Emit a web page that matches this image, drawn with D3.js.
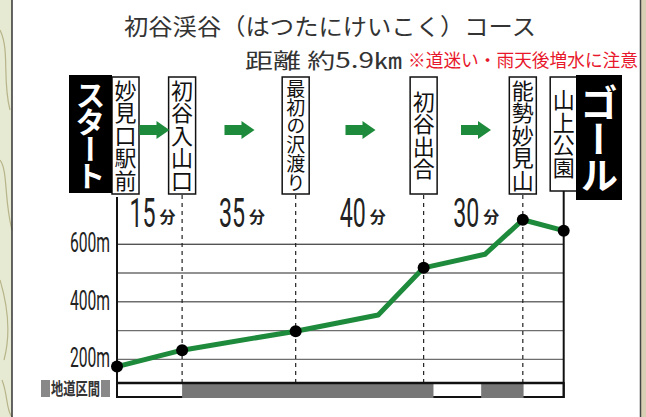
<!DOCTYPE html>
<html>
<head>
<meta charset="utf-8">
<script src="https://cdn.jsdelivr.net/npm/d3@7"></script>
<style>
  body { margin: 0; background: #fff; }
  text { font-family: "Noto Sans CJK JP", "Noto Sans", sans-serif; }
  .vert { writing-mode: vertical-rl; }
</style>
</head>
<body>
<div id="chart"></div>
<script>
// Chart data
const stations = ["妙見口駅前", "初谷入山口", "最初の沢渡り", "初谷出合", "能勢妙見山", "山上公園"];
const stationKm = [0, 0.86, 2.36, 4.05, 5.36, 5.9];
const legTimes = ["15", "35", "40", "30"];
const profileKm = [0, 0.86, 2.36, 3.45, 4.05, 4.86, 5.36, 5.9];
const profileElev = [175, 232, 298, 354, 518, 565, 685, 647];
const gridElev = [200, 300, 400, 500, 600];
const tickElev = [200, 400, 600];
const roadStart = [0.86, 4.81];
const roadEnd = [4.18, 5.37];

const width = 646, height = 417;
const svg = d3.select("#chart").append("svg")
    .attr("width", width)
    .attr("height", height);

// Map strips at the edges
svg.append("rect").attr("x", 0).attr("y", 0).attr("width", 12).attr("height", height).attr("fill", "#e6ead2");
svg.append("rect").attr("x", 640).attr("y", 0).attr("width", 6).attr("height", height).attr("fill", "#d9cfb4");
const mapLines = ["M0,30 C10,50 2,80 10,110", "M0,160 C8,170 4,200 12,230", "M0,280 C6,300 12,330 4,360", "M2,380 C8,395 6,410 12,417"];
svg.selectAll("path.map").data(mapLines).enter().append("path")
    .attr("d", d => d).attr("fill", "none").attr("stroke", "#b8b48a").attr("stroke-width", 1.2);
svg.append("line").attr("x1", 12).attr("x2", 12).attr("y1", 0).attr("y2", height).attr("stroke", "#333").attr("stroke-width", 1.5);
svg.append("line").attr("x1", 640.5).attr("x2", 640.5).attr("y1", 0).attr("y2", height).attr("stroke", "#444").attr("stroke-width", 1.5);

// Title
svg.append("text")
    .attr("x", 124).attr("y", 35)
    .attr("textLength", 412).attr("lengthAdjust", "spacingAndGlyphs")
    .style("font-size", "23px").attr("fill", "#333")
    .text("初谷渓谷（はつたにけいこく）コース");
svg.append("text")
    .attr("x", 245).attr("y", 68)
    .attr("textLength", 157).attr("lengthAdjust", "spacingAndGlyphs")
    .style("font-size", "21px").attr("fill", "#333")
    .text("距離 約5.9㎞");
svg.append("text")
    .attr("x", 408).attr("y", 67)
    .attr("textLength", 230).attr("lengthAdjust", "spacingAndGlyphs")
    .style("font-size", "18px").attr("fill", "#e8182c")
    .text("※道迷い・雨天後増水に注意");

// Scales
const x = d3.scaleLinear().domain([0, 5.9]).range([117, 563.7]);
const y = d3.scaleLinear().domain([118, 764]).range([383, 197]);

// Gridlines
svg.selectAll("line.grid").data(gridElev).enter().append("line")
    .attr("x1", x(0)).attr("x2", x(5.9))
    .attr("y1", d => y(d)).attr("y2", d => y(d))
    .attr("stroke", d => d === 600 ? "#111" : "#6e6e6e")
    .attr("stroke-width", d => d === 600 ? 1 : 1.4);

// Y tick labels (condensed by horizontal scaling)
svg.selectAll("text.ytick").data(tickElev).enter().append("text")
    .attr("transform", d => `translate(110,${y(d) + 8}) scale(0.58,1)`)
    .attr("text-anchor", "end")
    .style("font-family", "Roboto").style("font-size", "27px").attr("fill", "#222")
    .text(d => d + "m");

// Dashed station lines
svg.selectAll("line.station").data(stationKm.slice(1, -1)).enter().append("line")
    .attr("x1", d => x(d)).attr("x2", d => x(d))
    .attr("y1", 195).attr("y2", 383)
    .attr("stroke", "#222").attr("stroke-width", 1.2)
    .attr("stroke-dasharray", "4,4");

// Road band
svg.append("rect").attr("x", x(0)).attr("y", 383).attr("width", x(5.9) - x(0)).attr("height", 14)
    .attr("fill", "#fff").attr("stroke", "#111").attr("stroke-width", 2);
svg.selectAll("rect.road").data(roadStart).enter().append("rect")
    .attr("x", d => x(d)).attr("y", 384)
    .attr("width", (d, i) => x(roadEnd[i]) - x(d)).attr("height", 14)
    .attr("fill", "#777");
svg.append("line").attr("x1", x(0)).attr("x2", x(5.9)).attr("y1", 383).attr("y2", 383)
    .attr("stroke", "#111").attr("stroke-width", 2.5);

// Axes (solid verticals)
svg.append("line").attr("x1", x(0)).attr("x2", x(0)).attr("y1", 197).attr("y2", 398)
    .attr("stroke", "#111").attr("stroke-width", 2);
svg.append("line").attr("x1", x(5.9)).attr("x2", x(5.9)).attr("y1", 191).attr("y2", 398)
    .attr("stroke", "#111").attr("stroke-width", 2);

// Legend
svg.append("rect").attr("x", 41).attr("y", 380).attr("width", 9).attr("height", 17).attr("fill", "#888");
svg.append("rect").attr("x", 101).attr("y", 380).attr("width", 9).attr("height", 17).attr("fill", "#888");
svg.append("text").attr("x", 51).attr("y", 395)
    .attr("textLength", 49).attr("lengthAdjust", "spacingAndGlyphs")
    .style("font-size", "17px").style("font-weight", "bold").attr("fill", "#333")
    .text("地道区間");

// Elevation line
const line = d3.line().x(d => x(d[0])).y(d => y(d[1]));
svg.append("path")
    .datum(profileKm.map((k, i) => [k, profileElev[i]]))
    .attr("d", line)
    .attr("fill", "none").attr("stroke", "#1e8a3c").attr("stroke-width", 5)
    .attr("stroke-linejoin", "round");

// Station markers
svg.selectAll("circle.st").data(stationKm).enter().append("circle")
    .attr("cx", d => x(d))
    .attr("cy", d => y(profileElev[profileKm.indexOf(d)]))
    .attr("r", 6).attr("fill", "#000");

// Leg times
const legMid = legTimes.map((t, i) => (x(stationKm[i]) + x(stationKm[i + 1])) / 2);
svg.selectAll("text.time").data(legTimes).enter().append("text")
    .attr("transform", (d, i) => `translate(${legMid[i] - 20},227) scale(0.58,1)`)
    .style("font-family", "Roboto").style("font-size", "40px").attr("fill", "#222")
    .text(d => d);
svg.selectAll("text.fun").data(legTimes).enter().append("text")
    .attr("x", (d, i) => legMid[i] + 10).attr("y", 223)
    .style("font-size", "16px").style("font-weight", "bold").attr("fill", "#222")
    .text("分");

// Station boxes with vertical names
const boxTop = 77;
stations.forEach((name, i) => {
    const left = i === 0 ? x(0) - 5 : x(stationKm[i]) - 13.5;
    const bottom = i === stations.length - 1 ? 191 : 194;
    svg.append("rect").attr("x", left).attr("y", boxTop).attr("width", 27).attr("height", bottom - boxTop)
        .attr("fill", "#fff").attr("stroke", "#111").attr("stroke-width", 1.5);
    const n = Array.from(name).length;
    const fs = n > 5 ? 19 : 22;
    const step = n > 5 ? 18.8 : 22.5;
    svg.append("text").attr("class", "vert")
        .attr("x", left + 13.5).attr("y", (boxTop + bottom) / 2)
        .attr("text-anchor", "middle")
        .style("font-size", fs + "px").style("letter-spacing", (step - fs) + "px")
        .attr("fill", "#111")
        .text(name);
});

// Start and goal blocks
function endBlock(label, left, top, w, h, fs, spacing) {
    svg.append("rect").attr("x", left).attr("y", top).attr("width", w).attr("height", h).attr("fill", "#000");
    svg.append("text").attr("class", "vert")
        .attr("x", left + w / 2).attr("y", top + h / 2)
        .attr("text-anchor", "middle")
        .style("font-size", fs + "px").style("font-weight", "bold").style("letter-spacing", spacing + "px")
        .attr("fill", "#fff")
        .text(label);
}
endBlock("スタート", 69, 75, 43, 118, 30, -3);
endBlock("ゴール", 576, 75, 46, 125, 38, -2);

// Arrows between boxes
const arrowMid = [154.5, 239.5, 360.5, 476];
const arrowPath = "M-15,-5 L2,-5 L2,-9 L15,0 L2,9 L2,5 L-15,5 Z";
svg.selectAll("path.arrow").data(arrowMid).enter().append("path")
    .attr("d", arrowPath)
    .attr("transform", d => `translate(${d},130)`)
    .attr("fill", "#1e8a3c");
</script>
</body>
</html>
